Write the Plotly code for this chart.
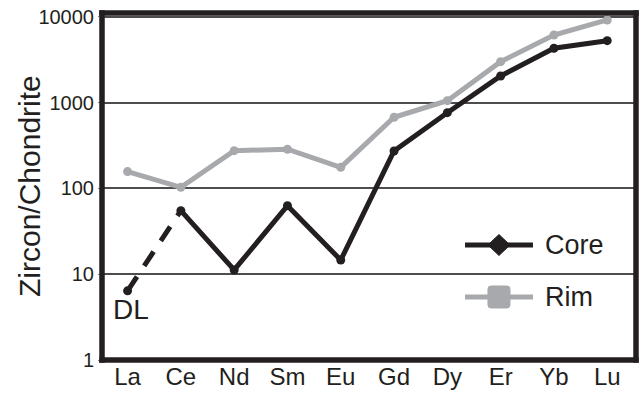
import plotly.graph_objects as go

elements = ["La", "Ce", "Nd", "Sm", "Eu", "Gd", "Dy", "Er", "Yb", "Lu"]
core = [6.4, 55, 11.2, 62.9, 14.6, 273, 763, 2042, 4295, 5264]
rim = [157, 103, 275, 286, 176, 674, 1052, 2997, 6137, 9180]
y_ticks = [1, 10, 100, 1000, 10000]
y_tick_labels = ["1", "10", "100", "1000", "10000"]

BLACK = "#231f20"
GRAY = "#a7a9ac"
FONT = "Liberation Sans, Arial, sans-serif"

fig = go.Figure()

fig.add_trace(go.Scatter(
    x=elements, y=rim, mode="lines+markers",
    line=dict(color=GRAY, width=5),
    marker=dict(color=GRAY, size=9, symbol="circle"),
    showlegend=False, name="Rim"))
fig.add_trace(go.Scatter(
    x=elements[:2], y=core[:2], mode="lines",
    line=dict(color=BLACK, width=5, dash="17px,13px"),
    showlegend=False, name="Core DL"))
fig.add_trace(go.Scatter(
    x=elements[1:], y=core[1:], mode="lines+markers",
    line=dict(color=BLACK, width=5),
    marker=dict(color=BLACK, size=9, symbol="circle"),
    showlegend=False, name="Core"))
fig.add_trace(go.Scatter(
    x=elements[:1], y=core[:1], mode="markers",
    marker=dict(color=BLACK, size=9, symbol="circle"),
    showlegend=False, name="Core La"))

shapes = []
# frame as filled bands, centred on the plot-area edges
W, H = 534.0, 347.0
hw, hh = 2.75 / W, 2.75 / H
for (x0, x1, y0, y1) in [(-hw, 1 + hw, -hh, hh), (-hw, 1 + hw, 1 - hh, 1 + hh),
                         (-hw, hw, -hh, 1 + hh), (1 - hw, 1 + hw, -hh, 1 + hh)]:
    shapes.append(dict(type="rect", xref="paper", yref="paper", x0=x0, x1=x1, y0=y0, y1=y1,
                       fillcolor=BLACK, line=dict(width=0), layer="above"))

# legend
shapes.append(dict(type="rect", xref="paper", yref="paper", x0=0.657, x1=0.949,
                   y0=0.121, y1=0.380, fillcolor="white", line=dict(width=0), layer="between"))
yc = 0.3314
shapes.append(dict(type="line", xref="paper", yref="paper", x0=0.6798, x1=0.8071,
                   y0=yc, y1=yc, line=dict(color=BLACK, width=5), layer="above"))
shapes.append(dict(type="path", xref="paper", yref="paper", xsizemode="pixel", ysizemode="pixel",
                   xanchor=0.7434, yanchor=yc,
                   path="M-11,0 L0,10.5 L11,0 L0,-10.5 Z",
                   fillcolor=BLACK, line=dict(color=BLACK, width=1), layer="above"))
yr = 0.1816
shapes.append(dict(type="line", xref="paper", yref="paper", x0=0.6798, x1=0.8071,
                   y0=yr, y1=yr, line=dict(color=GRAY, width=5), layer="above"))
shapes.append(dict(type="path", xref="paper", yref="paper", xsizemode="pixel", ysizemode="pixel",
                   xanchor=0.7434, yanchor=yr,
                   path="M-8,-11 L8,-11 Q11,-11 11,-8 L11,8 Q11,11 8,11 L-8,11 Q-11,11 -11,8 L-11,-8 Q-11,-11 -8,-11 Z",
                   fillcolor=GRAY, line=dict(color=GRAY, width=1), layer="above"))

annotations = [
    dict(text="Core", xref="paper", yref="paper", x=0.826, y=yc, xanchor="left", yanchor="middle",
         showarrow=False, font=dict(family=FONT, size=27, color=BLACK)),
    dict(text="Rim", xref="paper", yref="paper", x=0.826, y=yr, xanchor="left", yanchor="middle",
         showarrow=False, font=dict(family=FONT, size=27, color=BLACK)),
    dict(text="DL", xref="x", yref="y", x=0, y=0.594, xshift=3, xanchor="center", yanchor="middle",
         showarrow=False, font=dict(family=FONT, size=28, color=BLACK)),
    dict(text="Zircon/Chondrite", xref="paper", yref="paper", x=0, y=0.5, xshift=-72.5,
         xanchor="center", yanchor="middle", textangle=-90, showarrow=False,
         font=dict(family=FONT, size=30, color=BLACK)),
]

fig.update_layout(
    width=639, height=395,
    margin=dict(l=102, r=3, t=13, b=35),
    paper_bgcolor="white", plot_bgcolor="white",
    shapes=shapes, annotations=annotations,
    showlegend=False,
    font=dict(family=FONT, color=BLACK),
)
fig.update_xaxes(
    type="category", range=[-0.48, 9.54], showgrid=False, zeroline=False, showline=False,
    ticks="", tickfont=dict(family=FONT, size=24, color=BLACK),
)
fig.update_yaxes(
    type="log", range=[0, 4.044], tickvals=y_ticks, ticktext=y_tick_labels,
    showgrid=True, gridcolor="#4d4d4f", gridwidth=1.5, zeroline=False, showline=False,
    ticks="outside", ticklen=3, tickcolor="#888888",
    tickfont=dict(family=FONT, size=20, color=BLACK),
)

fig.write_html(
    "out.html",
    config={"displayModeBar": False},
    post_script="document.body.style.margin='0';document.body.style.overflow='hidden';",
)
